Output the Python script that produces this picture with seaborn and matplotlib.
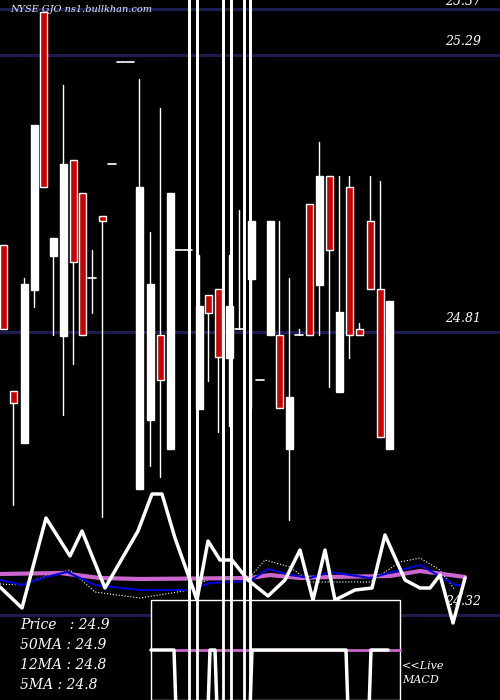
import matplotlib
matplotlib.use("Agg")
import matplotlib.pyplot as plt
import seaborn as sns
from matplotlib.patches import Rectangle

# candle data: x slot, open, high, low, close (prices)
cx = [3, 13, 24, 34, 43, 53, 63, 73, 82, 92, 102, 112, 121, 130, 139, 150, 160, 170,
      179, 188, 199, 208, 218, 229, 239, 251, 260, 270, 279, 289, 299, 309, 319, 329,
      339, 349, 359, 370, 380, 389]
c_open = [24.961, 24.708, 24.618, 24.883, 25.365, 24.942, 24.803, 25.108, 25.051, 24.904,
          25.011, 25.101, 25.278, 25.278, 24.538, 24.657, 24.805, 24.607, 24.952, 24.952,
          24.677, 24.874, 24.885, 24.765, 24.815, 24.902, 24.727, 24.805, 24.805, 24.607,
          24.805, 25.032, 24.891, 25.080, 24.706, 25.061, 24.815, 25.002, 24.885, 24.607]
c_close = [24.815, 24.687, 24.893, 25.169, 25.061, 24.973, 25.101, 24.931, 24.805, 24.904,
           25.002, 25.101, 25.278, 25.278, 25.061, 24.893, 24.727, 25.051, 24.952, 24.952,
           24.855, 24.843, 24.767, 24.855, 24.815, 25.002, 24.727, 25.002, 24.678, 24.697,
           24.805, 24.805, 25.080, 24.952, 24.845, 24.805, 24.805, 24.885, 24.628, 24.864]
c_high = [24.961, 24.708, 24.904, 25.169, 25.365, 24.973, 25.238, 25.108, 25.051, 24.952,
          25.011, 25.101, 25.278, 25.278, 25.248, 24.983, 25.198, 25.051, 24.952, 24.952,
          24.943, 24.874, 24.885, 24.943, 25.021, 25.002, 24.727, 25.002, 25.002, 24.904,
          24.815, 25.032, 25.139, 25.080, 25.080, 25.080, 24.826, 25.080, 25.072, 24.864]
c_low = [24.815, 24.510, 24.618, 24.853, 25.061, 24.805, 24.666, 24.755, 24.805, 24.843,
         24.489, 25.101, 25.278, 25.278, 24.538, 24.578, 24.559, 24.607, 24.952, 24.952,
         24.677, 24.725, 24.637, 24.647, 24.815, 24.678, 24.727, 24.805, 24.678, 24.484,
         24.805, 24.805, 24.805, 24.715, 24.706, 24.765, 24.805, 24.885, 24.628, 24.607]

# runaway candles drawn as outlines off the chart
spike_left = [189, 223, 244]
spike_right = [197, 231, 250]

price_levels = [25.37, 25.29, 24.81, 24.32]

# indicator panel (arbitrary oscillator units)
osc_x = [0, 22, 46, 70, 82, 105, 138, 152, 162, 175, 190, 197, 208, 220, 232, 248, 268,
         285, 300, 313, 325, 335, 355, 372, 385, 405, 420, 430, 440, 453, 465]
osc_y = [113, 92, 182, 144, 169, 112, 169, 206, 206, 162, 120, 100, 159, 140, 140, 120,
         104, 120, 150, 100, 150, 100, 110, 112, 165, 120, 112, 112, 125, 77, 122]
ma_purple_x = [0, 60, 100, 140, 250, 270, 300, 330, 390, 420, 465]
ma_purple_y = [126, 127, 122, 121, 122, 125, 122, 123, 124, 129, 123]
ma_blue_x = [0, 22, 46, 67, 95, 140, 190, 210, 250, 268, 290, 310, 330, 370, 420, 455, 463]
ma_blue_y = [120, 115, 123, 128, 115, 110, 110, 117, 119, 131, 125, 122, 128, 122, 135, 115, 115]
ma_dot_x = [0, 22, 46, 70, 95, 140, 190, 210, 250, 265, 290, 310, 330, 370, 400, 420, 440, 455]
ma_dot_y = [116, 115, 124, 130, 108, 102, 110, 122, 123, 140, 133, 118, 118, 118, 138, 142, 130, 110]

macd_x = [151, 174, 176, 208, 210, 215, 217, 250, 252, 346, 348, 369, 371, 388]
macd_y = [50, 50, -10, -10, 50, 50, -10, -10, 50, 50, -10, -10, 50, 50]

sns.set_theme(style="dark")
plt.rcParams["font.family"] = ["DejaVu Serif"]

fig = plt.figure(figsize=(5, 7), dpi=100, facecolor="black")
ax = fig.add_axes([0, 0, 1, 1], facecolor="black")
ax.set_xlim(0, 500)
ax.set_ylim(24.172, 25.385)
ax.axis("off")

for lvl in price_levels:
    ax.axhline(lvl, color="#1c1c50", lw=2.2, zorder=1)
    off = 0.001 if lvl > 25.35 else 0.012
    ax.text(445, lvl + off, f"{lvl:.2f}", color="white", fontsize=9,
            style="italic", ha="left", va="bottom", zorder=6)

w = 7
for x, o, h, l, c in zip(cx, c_open, c_high, c_low, c_close):
    ax.plot([x, x], [l, h], color="white", lw=1, zorder=3)
    if o == c:
        ax.plot([x - 4, x + 4], [o, o], color="white", lw=1.2, zorder=3)
        continue
    red = c < o
    ax.add_patch(Rectangle((x - w / 2, min(o, c)), w, abs(o - c),
                           facecolor="#cc0000" if red else "white",
                           edgecolor="white", lw=1, zorder=4))

for a, b in zip(spike_left, spike_right):
    ax.add_patch(Rectangle((a, 24.0), b - a, 1.5, facecolor="none",
                           edgecolor="white", lw=2, zorder=5))

ax.text(10, 25.368, "NYSE GJO ns1.bullkhan.com", color="#e8e8f0", fontsize=7,
        style="italic", va="center", zorder=6)

# indicator axes on top
ax2 = fig.add_axes([0, 0, 1, 1], facecolor="none")
ax2.set_xlim(0, 500)
ax2.set_ylim(0, 700)
ax2.axis("off")
sns.lineplot(x=ma_dot_x, y=ma_dot_y, ax=ax2, color="white", lw=0.8, linestyle=":")
sns.lineplot(x=ma_purple_x, y=ma_purple_y, ax=ax2, color="#cc66cc", lw=3)
sns.lineplot(x=ma_blue_x, y=ma_blue_y, ax=ax2, color="#0000dd", lw=1.5)
sns.lineplot(x=osc_x, y=osc_y, ax=ax2, color="white", lw=2.5, sort=False)

ax2.add_patch(Rectangle((151, 0), 249, 100, facecolor="black", edgecolor="white", lw=1, zorder=2))
ax2.plot([175, 400], [50, 50], color="#cc66cc", lw=2, zorder=3)
ax2.plot(macd_x, macd_y, color="white", lw=2.5, zorder=4, clip_on=True)
for a, b in zip(spike_left, spike_right):
    ax2.add_patch(Rectangle((a, -10), b - a, 720, facecolor="none",
                            edgecolor="white", lw=2, zorder=5))

labels = ["Price   : 24.9", "50MA : 24.9", "12MA : 24.8", "5MA : 24.8"]
for i, t in enumerate(labels):
    ax2.text(20, 75 - i * 20, t, color="white", fontsize=10, style="italic", va="center")
ax2.text(402, 34, "<<Live", color="white", fontsize=8, style="italic", va="center")
ax2.text(402, 20, "MACD", color="white", fontsize=8, style="italic", va="center")

fig.savefig("out.png", dpi=100, facecolor="black")
